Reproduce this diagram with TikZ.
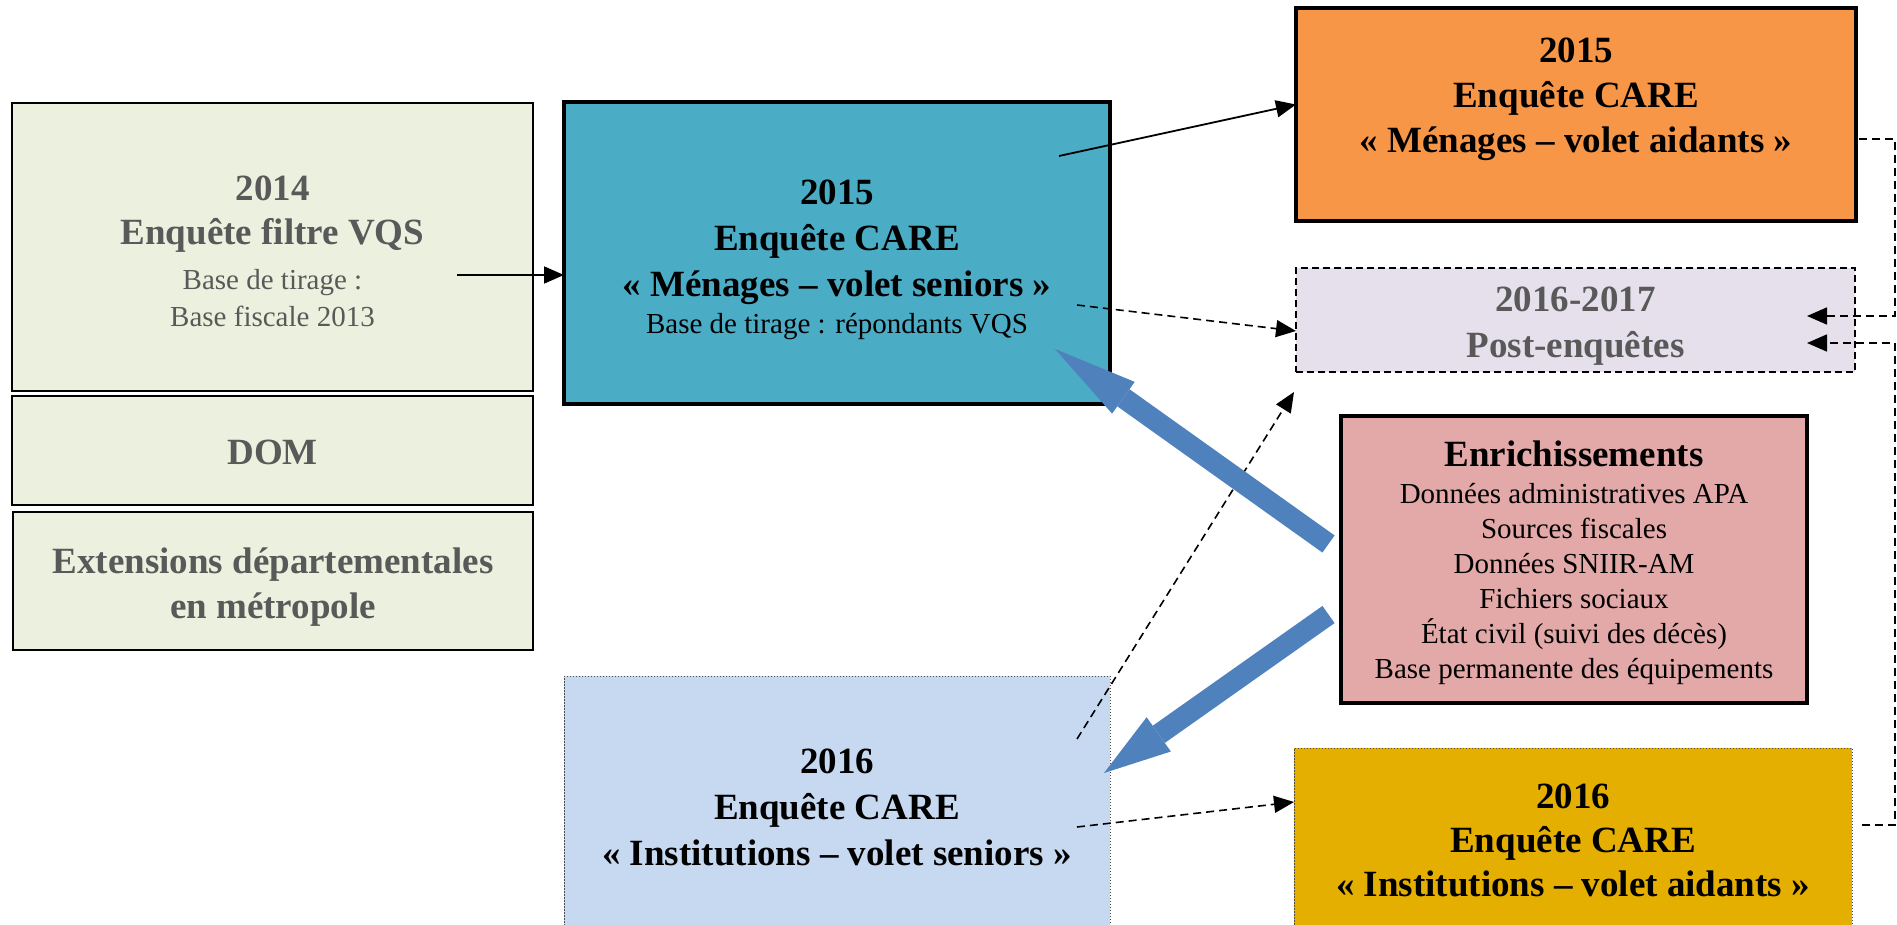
\documentclass[tikz,border=0pt]{standalone}
\usepackage{fontspec}
\setmainfont{Liberation Serif}
\usetikzlibrary{arrows.meta}
\definecolor{greenbg}{HTML}{EBF1DE}
\definecolor{tealbg}{HTML}{4BACC6}
\definecolor{orangebg}{HTML}{F79646}
\definecolor{postbg}{HTML}{E5E0EC}
\definecolor{pinkbg}{HTML}{E2A9A8}
\definecolor{instbg}{HTML}{C6D9F1}
\definecolor{goldbg}{HTML}{E4AF00}
\definecolor{arrowblue}{HTML}{4F81BD}
\definecolor{greytxt}{HTML}{595959}
\newcommand{\BigTxt}{\fontsize{37}{44}\selectfont\bfseries}
\newcommand{\SmTxt}{\fontsize{29}{35}\selectfont\mdseries}
\begin{document}
\begin{tikzpicture}[x=1pt,y=-1pt,
  basebox/.style={align=center, inner sep=0pt, outer sep=0pt},
  gbox/.style={basebox, draw=black, line width=2pt, fill=greenbg, text=greytxt, font=\BigTxt},
  thickbox/.style={basebox, draw=black, line width=4pt, font=\BigTxt},
  dotbox/.style={basebox, draw=black!70, line width=1pt, dash pattern=on 1.5pt off 1.5pt, font=\BigTxt},
  solidarrow/.style={draw=black, line width=1.8pt, -{Triangle[length=20pt,width=17pt]}},
  dasharrow/.style={draw=black, line width=1.6pt, dash pattern=on 8pt off 5pt, -{Triangle[length=20pt,width=17pt]}},
  blockarrow/.style={draw=arrowblue, line width=21pt}
]
\useasboundingbox (0,0) rectangle (1897,925);
\clip (0,0) rectangle (1897,925);

% left column
\node[gbox, minimum width=521pt, minimum height=288pt] (vqs) at (272.5,247) {};
\node[basebox, text=greytxt, font=\BigTxt] (vqstxt) at (272.5,251)
  {2014\\Enquête filtre VQS\\[1pt]{\SmTxt Base de tirage :}\\[-7pt]{\SmTxt Base fiscale 2013}};
\node[gbox, minimum width=521pt, minimum height=109pt] (dom) at (272.5,450.5) {};
\node[basebox, text=greytxt, font=\BigTxt] (domtxt) at (272.5,452.5) {DOM};
\node[gbox, minimum width=520pt, minimum height=138pt] (ext) at (273,581) {};
\node[basebox, text=greytxt, font=\BigTxt] (exttxt) at (273,587)
  {Extensions départementales\\[1pt]en métropole};

% centre column
\node[thickbox, fill=tealbg, minimum width=546pt, minimum height=302pt] (care15s) at (837,253) {};
\node[basebox, font=\BigTxt] (care15stxt) at (837,260)
  {2015\\[2pt]Enquête CARE\\[2pt]«~Ménages – volet seniors~»\\[-7pt]{\SmTxt Base de tirage : répondants VQS}};
\node[dotbox, fill=instbg, minimum width=546pt, minimum height=262pt] (inst16s) at (837,807)
  {2016\\[2pt]Enquête CARE\\[2pt]«~Institutions – volet seniors~»};

% right column
\node[thickbox, fill=orangebg, minimum width=560pt, minimum height=213pt] (care15a) at (1576,114.5) {};
\node[basebox, font=\BigTxt] (care15atxt) at (1576,99)
  {2015\\[1pt]Enquête CARE\\[1pt]«~Ménages – volet aidants~»};
\node[basebox, draw=black, line width=2pt, dash pattern=on 7pt off 4pt, fill=postbg,
  minimum width=559pt, minimum height=104pt] (post) at (1575.5,320) {};
\node[basebox, text=greytxt, font=\BigTxt] (posttxt) at (1575.5,326)
  {2016-2017\\[2pt]Post-enquêtes};
\node[basebox, draw=black, line width=3.5pt, fill=pinkbg,
  minimum width=466pt, minimum height=287pt] (enr) at (1574,559.5) {};
\node[basebox, font=\SmTxt] (enrtxt) at (1574,563)
  {{\BigTxt Enrichissements}\\[2pt]Données administratives APA\\Sources fiscales\\Données SNIIR-AM\\Fichiers sociaux\\État civil (suivi des décès)\\Base permanente des équipements};
\node[dotbox, fill=goldbg, minimum width=558pt, minimum height=200pt] (gold16a) at (1573,848) {};
\node[basebox, font=\BigTxt] (gold16atxt) at (1573,840)
  {2016\\Enquête CARE\\«~Institutions – volet aidants~»};

% connectors
\coordinate (vqsout) at (457,275);
\draw[solidarrow] (vqsout) -- (vqsout -| care15s.west);

\coordinate (c15out) at (1059,156);
\coordinate (c15ain) at ([yshift=10pt]care15a.west);
\draw[solidarrow] (c15out) -- (c15ain);

\coordinate (c15dash) at (1077,305);
\coordinate (postinA) at ([yshift=-11pt]post.west);
\draw[dasharrow] (c15dash) -- (postinA);

\coordinate (instup) at (1077,739);
\coordinate (postinB) at ([shift={(-2pt,-20pt)}]post.south west);
\draw[dasharrow] (instup) -- (postinB);

\coordinate (instout) at (1077,827);
\coordinate (goldin) at ([yshift=46pt]gold16a.west);
\draw[dasharrow] (instout) -- (goldin);

\coordinate (orout) at (1859,139);
\coordinate (postinC) at (1807,316);
\draw[dasharrow] (orout) -- (1895,139) -- (1895,316) -- (postinC);

\coordinate (goldout) at (1862,825);
\coordinate (postinD) at (1807,343);
\draw[dasharrow] (goldout) -- (1895,825) -- (1895,343) -- (postinD);

% block arrows from Enrichissements
\coordinate (enrA) at (1328.5,544);
\coordinate (enrB) at (1328.5,614.5);
\coordinate (care15sin) at ([shift={(-55pt,55pt)}]care15s.south east);
\coordinate (inst16sin) at ([shift={(-6pt,-97pt)}]inst16s.north east);
\draw[blockarrow, -{Triangle[length=84pt,width=39pt,line width=0pt]}] (enrA) -- (care15sin);
\draw[blockarrow, -{Triangle[length=67pt,width=42pt,line width=0pt]}] (enrB) -- (inst16sin);
\end{tikzpicture}
\end{document}
